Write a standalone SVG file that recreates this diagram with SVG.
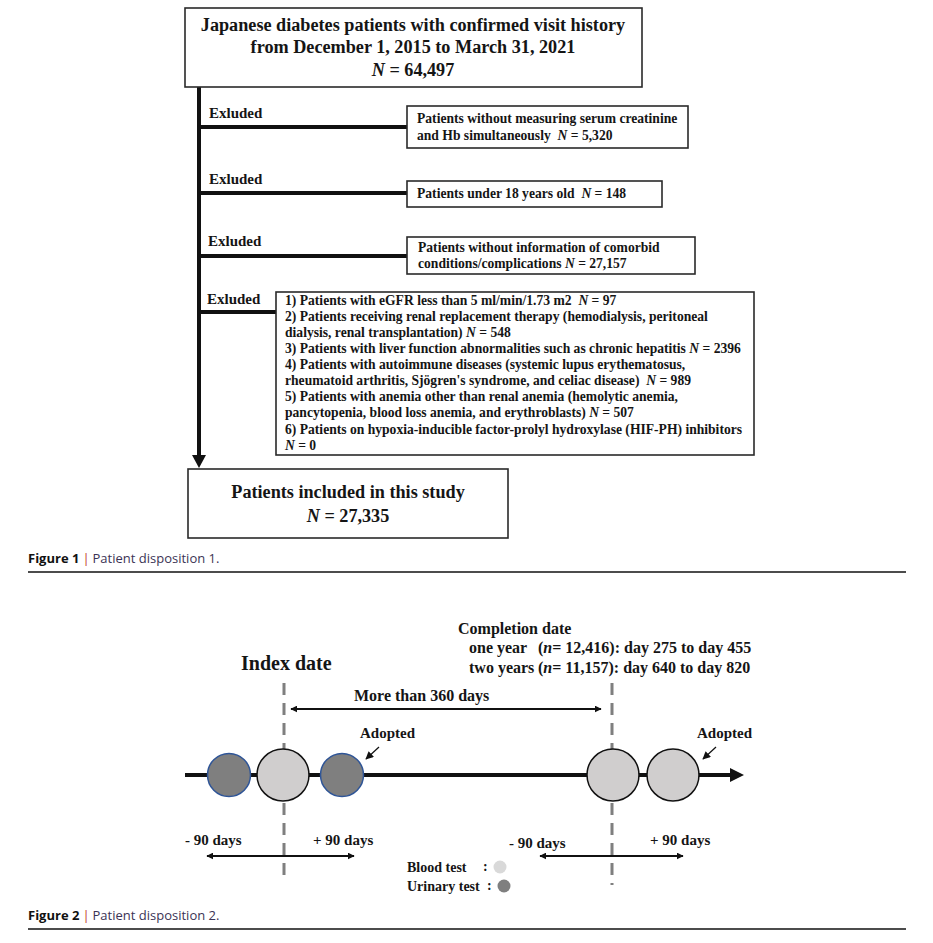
<svg xmlns="http://www.w3.org/2000/svg" width="933" height="943" viewBox="0 0 933 943">
<style>
.t{font-family:"Liberation Serif","Times New Roman",serif;font-weight:bold;fill:#151515}
.box{fill:#fff;stroke:#2a2a2a;stroke-width:1.6}
.main{stroke:#111;stroke-width:4;fill:none}
.dash{stroke:#7f7f7f;stroke-width:3;stroke-dasharray:12 8;fill:none}
.thin{stroke:#111;stroke-width:1.8;fill:none}
.cap{font-family:"Open Sans","Liberation Sans",sans-serif;font-size:13px}
.rule{stroke:#111;stroke-width:1.6}
.light{fill:#d0cece;stroke:#111;stroke-width:1.5}
.dark{fill:#7f7f7f;stroke:#2f5597;stroke-width:1.5}
</style>
<defs>
<marker id="ah" viewBox="0 0 10 10" refX="9" refY="5" markerWidth="7" markerHeight="7" orient="auto-start-reverse" markerUnits="userSpaceOnUse">
<path d="M0,0 L10,5 L0,10 z" fill="#111"/>
</marker>
<marker id="ahs" viewBox="0 0 10 10" refX="9" refY="5" markerWidth="9" markerHeight="8" orient="auto-start-reverse" markerUnits="userSpaceOnUse">
<path d="M0,0 L10,5 L0,10 z" fill="#111"/>
</marker>
</defs>
<rect width="933" height="943" fill="#fff"/>

<!-- Figure 1 connectors -->
<g id="connectors">
<line class="main" x1="199" y1="87" x2="199" y2="456"/>
<path d="M192,455 L206,455 L199,468 z" fill="#111"/>
<line class="main" x1="199" y1="127" x2="407" y2="127"/>
<line class="main" x1="199" y1="193" x2="407" y2="193"/>
<line class="main" x1="199" y1="256" x2="407" y2="256"/>
<line class="main" x1="199" y1="312" x2="276" y2="312"/>
</g>

<g id="labels" class="t" font-size="15">
<text x="209" y="118">Exluded</text>
<text x="209" y="184">Exluded</text>
<text x="208" y="246">Exluded</text>
<text x="207" y="304">Exluded</text>
</g>

<g id="n-start">
<rect class="box" x="185" y="8" width="457" height="79"/>
<text class="t" font-size="18.2" text-anchor="middle" x="413" y="31">Japanese diabetes patients with confirmed visit history</text>
<text class="t" font-size="18.2" text-anchor="middle" x="413" y="53">from December 1, 2015 to March 31, 2021</text>
<text class="t" font-size="18.2" text-anchor="middle" x="413" y="76"><tspan font-style="italic">N</tspan> = 64,497</text>
</g>

<g id="n-ex1">
<rect class="box" x="407" y="106" width="281" height="42"/>
<text class="t" font-size="13.6" x="417" y="123">Patients without measuring serum creatinine</text>
<text class="t" font-size="13.6" x="417" y="140" xml:space="preserve">and Hb simultaneously  <tspan font-style="italic">N</tspan> = 5,320</text>
</g>

<g id="n-ex2">
<rect class="box" x="407" y="181" width="255" height="26"/>
<text class="t" font-size="13.6" x="417" y="198" xml:space="preserve">Patients under 18 years old  <tspan font-style="italic">N</tspan> = 148</text>
</g>

<g id="n-ex3">
<rect class="box" x="407" y="237" width="288" height="37"/>
<text class="t" font-size="13.6" x="418" y="252">Patients without information of comorbid</text>
<text class="t" font-size="13.6" x="418" y="268">conditions/complications <tspan font-style="italic">N</tspan> = 27,157</text>
</g>

<g id="n-ex4">
<rect class="box" x="276" y="292" width="478" height="163"/>
<g class="t" font-size="13.6">
<text x="285" y="305" xml:space="preserve">1) Patients with eGFR less than 5 ml/min/1.73 m2  <tspan font-style="italic">N</tspan> = 97</text>
<text x="285" y="321">2) Patients receiving renal replacement therapy (hemodialysis, peritoneal</text>
<text x="285" y="337">dialysis, renal transplantation) <tspan font-style="italic">N</tspan> = 548</text>
<text x="285" y="353">3) Patients with liver function abnormalities such as chronic hepatitis <tspan font-style="italic">N</tspan> = 2396</text>
<text x="285" y="369">4) Patients with autoimmune diseases (systemic lupus erythematosus,</text>
<text x="285" y="385" xml:space="preserve">rheumatoid arthritis, Sjögren's syndrome, and celiac disease)  <tspan font-style="italic">N</tspan> = 989</text>
<text x="285" y="401">5) Patients with anemia other than renal anemia (hemolytic anemia,</text>
<text x="285" y="417">pancytopenia, blood loss anemia, and erythroblasts) <tspan font-style="italic">N</tspan> = 507</text>
<text x="285" y="434">6) Patients on hypoxia-inducible factor-prolyl hydroxylase (HIF-PH) inhibitors</text>
<text x="285" y="450"><tspan font-style="italic">N</tspan> = 0</text>
</g>
</g>

<g id="n-end">
<rect class="box" x="188" y="469" width="320" height="69"/>
<text class="t" font-size="18.2" text-anchor="middle" x="348" y="498">Patients included in this study</text>
<text class="t" font-size="18.2" text-anchor="middle" x="348" y="522"><tspan font-style="italic">N</tspan> = 27,335</text>
</g>

<g id="caption1">
<text class="cap" x="28" y="563"><tspan font-weight="bold" fill="#111">Figure 1</tspan><tspan fill="#c0392b" dx="3">|</tspan><tspan fill="#3b3355" dx="3">Patient disposition 1.</tspan></text>
<line class="rule" x1="28" y1="572" x2="906" y2="572"/>
</g>

<!-- Figure 2 -->
<g id="timeline-text" class="t">
<text font-size="16" x="458" y="634">Completion date</text>
<text font-size="16" x="469" y="653">one year<tspan x="538">(<tspan font-style="italic">n</tspan>= 12,416): day 275 to day 455</tspan></text>
<text font-size="16" x="469" y="673">two years<tspan x="538">(<tspan font-style="italic">n</tspan>= 11,157): day 640 to day 820</tspan></text>
<text font-size="20" x="241" y="670">Index date</text>
<text font-size="16" x="354" y="701">More than 360 days</text>
</g>

<g id="timeline-lines">
<line class="dash" x1="284" y1="683" x2="284" y2="880"/>
<line class="dash" x1="612" y1="683" x2="612" y2="885"/>
<line class="thin" x1="291" y1="709" x2="601" y2="709" marker-start="url(#ah)" marker-end="url(#ah)"/>
<line x1="185" y1="775" x2="732" y2="775" stroke="#111" stroke-width="4"/>
<path d="M730,768 L744,775 L730,782 z" fill="#111"/>
<line class="thin" x1="207" y1="856" x2="354" y2="856" marker-start="url(#ah)" marker-end="url(#ah)"/>
<line class="thin" x1="540" y1="856" x2="683" y2="856" marker-start="url(#ah)" marker-end="url(#ah)"/>
<line x1="379" y1="747" x2="366" y2="759" stroke="#111" stroke-width="1.2" marker-end="url(#ahs)"/>
<line x1="716" y1="747" x2="703" y2="759" stroke="#111" stroke-width="1.2" marker-end="url(#ahs)"/>
</g>

<g id="tests">
<circle class="dark" cx="229" cy="775" r="21.5"/>
<circle class="light" cx="283" cy="775" r="26"/>
<circle class="dark" cx="342" cy="775" r="21.5"/>
<circle class="light" cx="613" cy="775" r="26"/>
<circle class="light" cx="673" cy="775" r="26"/>
</g>

<g id="timeline-labels" class="t" font-size="15">
<text x="360" y="738">Adopted</text>
<text x="697" y="738">Adopted</text>
<text x="185" y="845">- 90 days</text>
<text x="313" y="845">+ 90 days</text>
<text x="509" y="848">- 90 days</text>
<text x="650" y="845">+ 90 days</text>
</g>

<g id="legend" class="t" font-size="14">
<text x="407" y="872">Blood test</text>
<text x="483" y="871">:</text>
<circle cx="500" cy="867" r="6.5" fill="#d9d9d9"/>
<text x="407" y="891">Urinary test</text>
<text x="487" y="890">:</text>
<circle cx="504" cy="886" r="6.5" fill="#7f7f7f"/>
</g>

<g id="caption2">
<text class="cap" x="28" y="920"><tspan font-weight="bold" fill="#111">Figure 2</tspan><tspan fill="#c0392b" dx="3">|</tspan><tspan fill="#3b3355" dx="3">Patient disposition 2.</tspan></text>
<line class="rule" x1="28" y1="929" x2="906" y2="929"/>
</g>
</svg>
